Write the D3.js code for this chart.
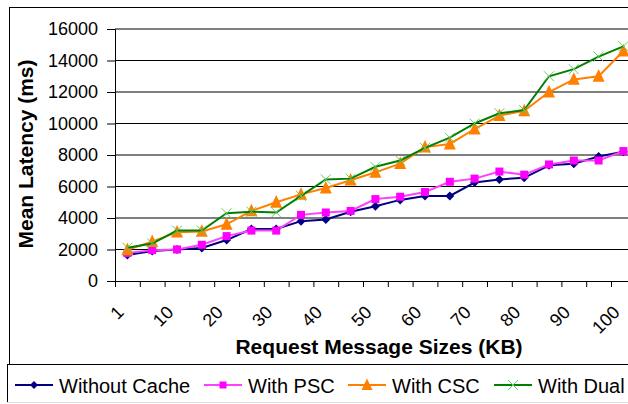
<!DOCTYPE html>
<html><head><meta charset="utf-8">
<script src="https://cdn.jsdelivr.net/npm/d3@7/dist/d3.min.js"></script>
<style>body{margin:0;background:#fff}svg{display:block}text{font-family:"Liberation Sans",Arial,sans-serif}</style>
</head><body>
<script>
const categories = ["1","5","10","15","20","25","30","35","40","45","50","55","60","65","70","75","80","85","90","95","100"];
const withoutCache = [1650,1900,2000,2100,2600,3300,3300,3800,3900,4400,4750,5150,5400,5400,6250,6450,6550,7350,7450,7900,8200];
const withPSC = [1780,1960,2000,2300,2850,3200,3200,4200,4350,4450,5200,5350,5650,6300,6500,6950,6750,7400,7650,7650,8250];
const withCSC = [1980,2500,3100,3150,3600,4450,5000,5500,5900,6400,6900,7450,8500,8700,9650,10500,10800,12000,12800,13000,14600];
const withDual = [2110,2380,3200,3200,4300,4400,4350,5400,6450,6500,7250,7650,8450,9100,10000,10650,10850,13000,13450,14250,14900];
const yTicks = [0,2000,4000,6000,8000,10000,12000,14000,16000];
const seriesNames = ["Without Cache","With PSC","With CSC","With Dual"];

const W = 628, H = 404;
const svg = d3.select("body").append("svg").attr("width", W).attr("height", H);
svg.append("rect").attr("width", W).attr("height", H).attr("fill", "#fff");

// chart frame
svg.append("rect").attr("x", 9.5).attr("y", 7.5).attr("width", 640).attr("height", 357)
  .attr("fill", "none").attr("stroke", "#000").attr("stroke-width", 1);
svg.append("rect").attr("x", 7.5).attr("y", 364.5).attr("width", 640).attr("height", 38)
  .attr("fill", "none").attr("stroke", "#000").attr("stroke-width", 1);
svg.append("line").attr("x1", 7).attr("x2", 640).attr("y1", 402.5).attr("y2", 402.5).attr("stroke", "#ddd");

const x0 = 115, bw = 24.8, n = categories.length;
const x = d3.scaleBand().domain(d3.range(n)).range([x0, x0 + bw * n]).padding(0);
const xb = d3.scaleLinear().domain([0, n]).range([x0, x0 + bw * n]);
const y = d3.scaleLinear().domain([0, 16000]).range([281, 29]);

// gridlines
svg.append("g").selectAll("line").data(yTicks.slice(1)).join("line")
  .attr("x1", x0).attr("x2", x0 + bw * n).attr("y1", d => y(d)).attr("y2", d => y(d))
  .attr("stroke", "#000").attr("stroke-width", 1);

// y axis
const gy = svg.append("g").attr("transform", `translate(${x0},0)`)
  .call(d3.axisLeft(y).tickValues(yTicks).tickSize(8).tickPadding(9).tickFormat(d3.format("d")));
gy.select(".domain").attr("stroke", "#000");
gy.selectAll(".tick line").attr("stroke", "#000");
gy.selectAll("text").attr("font-size", 18).attr("fill", "#000").attr("font-family", "Liberation Sans, Arial, sans-serif");

// x axis
const gx = svg.append("g").attr("transform", `translate(0,281)`)
  .call(d3.axisBottom(xb).tickValues(d3.range(n + 1)).tickSize(6).tickFormat(""));
gx.select(".domain").attr("stroke", "#000");
gx.selectAll(".tick line").attr("stroke", "#000");

svg.append("g").selectAll("text").data(categories.map((c, i) => ({c, i})).filter(d => d.i % 2 === 0)).join("text")
  .attr("transform", d => `translate(${x(d.i) + bw / 2 - 7},${309}) rotate(-45)`)
  .attr("text-anchor", "end").attr("dy", "0.35em").attr("font-size", 18).attr("fill", "#000")
  .text(d => d.c);

// titles
svg.append("text").attr("transform", "translate(33,154) rotate(-90)").attr("text-anchor", "middle")
  .attr("font-size", 21).attr("font-weight", "bold").text("Mean Latency (ms)");
svg.append("text").attr("x", 379).attr("y", 354).attr("text-anchor", "middle")
  .attr("font-size", 21).attr("font-weight", "bold").text("Request Message Sizes (KB)");

// markers
function diamond(g, c, s) { g.append("path").attr("d", `M0,${-s}L${s},0L0,${s}L${-s},0Z`).attr("fill", c); }
function square(g, c, s) { g.append("rect").attr("x", -s / 2).attr("y", -s / 2).attr("width", s).attr("height", s).attr("fill", c); }
function triangle(g, c, s) { g.append("path").attr("d", `M0,${-s * 0.6}L${s / 2},${s * 0.45}L${-s / 2},${s * 0.45}Z`).attr("fill", c); }
function cross(g, c, s) { g.append("path").attr("d", `M${-s},${-s}L${s},${s}M${-s},${s}L${s},${-s}`).attr("stroke", c).attr("stroke-width", 1).attr("fill", "none"); }

const series = [
  {name: seriesNames[0], values: withoutCache, line: "#000080", mk: "#000080", draw: (g) => diamond(g, "#000080", 4.5), lg: (g) => diamond(g, "#000080", 4)},
  {name: seriesNames[1], values: withPSC, line: "#FF40FF", mk: "#FF00FF", draw: (g) => square(g, "#FF00FF", 8), lg: (g) => square(g, "#FF00FF", 7)},
  {name: seriesNames[2], values: withCSC, line: "#FF8000", mk: "#FF8000", draw: (g) => triangle(g, "#FF8000", 12), lg: (g) => triangle(g, "#FF8000", 11)},
  {name: seriesNames[3], values: withDual, line: "#008000", mk: "#66CC66", draw: (g) => cross(g, "#66CC66", 5), lg: (g) => cross(g, "#66CC66", 5)}
];

const line = d3.line().x((d, i) => x(i) + bw / 2).y(d => y(d));
series.forEach(s => {
  const g = svg.append("g");
  g.append("path").attr("d", line(s.values)).attr("fill", "none").attr("stroke", s.line).attr("stroke-width", 2);
  s.values.forEach((v, i) => {
    const m = g.append("g").attr("transform", `translate(${x(i) + bw / 2},${y(v)})`);
    s.draw(m);
  });
});

// legend
const legX = [15, 204, 348, 494];
series.forEach((s, k) => {
  const g = svg.append("g").attr("transform", `translate(${legX[k]},385)`);
  g.append("line").attr("x1", 0).attr("x2", 38).attr("y1", 0).attr("y2", 0).attr("stroke", s.line).attr("stroke-width", 2);
  const m = g.append("g").attr("transform", "translate(19,0)");
  s.lg(m);
  g.append("text").attr("x", 44).attr("y", 6).attr("dy", "0.1em").attr("font-size", 20).attr("fill", "#000").text(s.name);
});
</script>
</body></html>
